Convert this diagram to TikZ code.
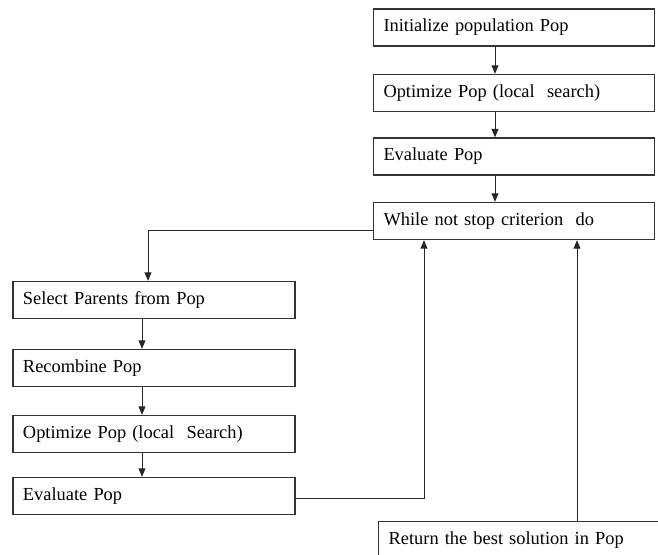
\documentclass[tikz,border=0pt]{standalone}
\usepackage{fontspec}
\setmainfont{Liberation Serif}
\usepackage{tikz}
\usetikzlibrary{arrows.meta,positioning,calc}
\tikzset{
  stepbox/.style={draw=black!80, line width=0.65pt, minimum height=18.5pt,
    text width=130.5pt, inner xsep=5pt, align=left,
    font=\fontsize{9.2}{11}\selectfont},
  link/.style={draw=black!85, line width=0.5pt,
    -{Triangle[length=4.2pt,width=3.4pt]}},
  plain/.style={draw=black!85, line width=0.5pt}
}
\begin{document}
\begin{tikzpicture}[x=0.5pt, y=-0.5pt]
  % cadre
  \useasboundingbox (0,0) rectangle (658,554);
  \clip (0,0) rectangle (658,554);
  % Boucle principale (droite)
  \node[stepbox] (init) at (514,27.5){Initialize population Pop};
  \node[stepbox] (opta) at (514,93){Optimize Pop (local\ \ search)};
  \node[stepbox] (evala) at (514,156.5){Evaluate Pop};
  \node[stepbox] (while) at (514,221){While not stop criterion\ \ do};
  % Corps de la boucle (gauche)
  \node[stepbox, text width=131pt] (select) at (154,300){Select Parents from Pop};
  \node[stepbox, text width=131pt] (recomb) at (154,368){Recombine Pop};
  \node[stepbox, text width=131pt] (optb) at (154,434){Optimize Pop (local\ \ Search)};
  \node[stepbox, text width=131pt] (evalb) at (154,496){Evaluate Pop};
  % Sortie
  \node[stepbox, text width=135pt, anchor=north west] (ret) at (378,521){Return the best solution in Pop};
  % repères des flèches
  \coordinate (rx) at (495,0);
  \coordinate (lx) at (142,0);
  \coordinate (dx) at (148,0);
  \coordinate (bx) at (424,0);
  \coordinate (ox) at (577,0);
  \coordinate (wy) at (0,230);
  \coordinate (ey) at (0,498);
  % Liaisons
  \draw[link] (init.south -| rx) -- (opta.north -| rx);
  \draw[link] (opta.south -| rx) -- (evala.north -| rx);
  \draw[link] (evala.south -| rx) -- (while.north -| rx);
  \draw[link] (while.west |- wy) -| (select.north -| dx);
  \draw[link] (select.south -| lx) -- (recomb.north -| lx);
  \draw[link] (recomb.south -| lx) -- (optb.north -| lx);
  \draw[link] (optb.south -| lx) -- (evalb.north -| lx);
  \draw[link] (evalb.east |- ey) -| (while.south -| bx);
  \draw[link] (ret.north -| ox) -- (while.south -| ox);
\end{tikzpicture}
\end{document}
